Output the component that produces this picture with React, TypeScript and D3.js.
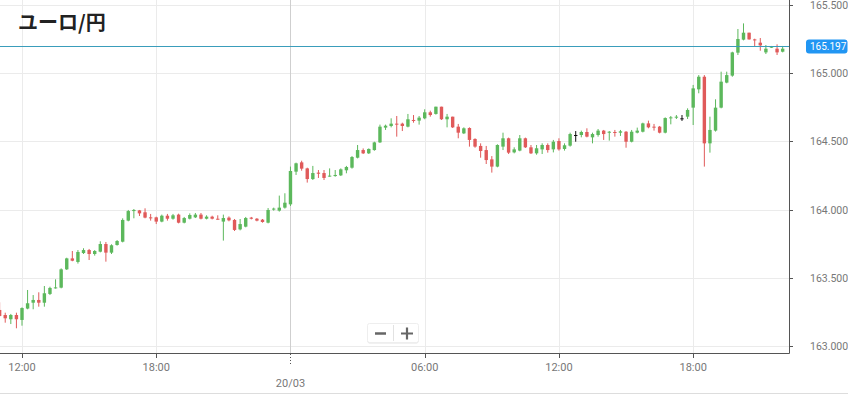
import React, { useEffect, useRef } from 'react';
import * as d3 from 'd3';

// 15分足 ユーロ/円 (19/03 11:00 〜 20/03 22:00)
const startTime = new Date(2023, 2, 19, 11, 0);

const opens = [
  163.267, 163.230, 163.199, 163.230, 163.194, 163.277, 163.320, 163.340, 163.320, 163.384,
  163.428, 163.430, 163.564, 163.644, 163.618, 163.683, 163.705, 163.676, 163.693, 163.749,
  163.686, 163.742, 163.766, 163.920, 163.990, 163.995, 163.981, 163.944, 163.944, 163.913,
  163.956, 163.934, 163.964, 163.905, 163.934, 163.944, 163.964, 163.934, 163.949, 163.934,
  163.913, 163.942, 163.925, 163.856, 163.876, 163.942, 163.934, 163.927, 163.905, 164.003,
  163.993, 164.015, 164.039, 164.278, 164.346, 164.302, 164.224, 164.271, 164.268, 164.244,
  164.246, 164.251, 164.288, 164.307, 164.380, 164.436, 164.412, 164.436, 164.492, 164.600,
  164.612, 164.629, 164.629, 164.607, 164.656, 164.651, 164.668, 164.712, 164.700, 164.753,
  164.661, 164.680, 164.607, 164.558, 164.597, 164.517, 164.466, 164.436, 164.368, 164.315,
  164.461, 164.522, 164.419, 164.432, 164.522, 164.456, 164.412, 164.441, 164.473, 164.441,
  164.502, 164.444, 164.468, 164.546, 164.546, 164.568, 164.529, 164.546, 164.578, 164.563,
  164.568, 164.563, 164.570, 164.497, 164.563, 164.570, 164.631, 164.607, 164.607, 164.563,
  164.668, 164.673, 164.668, 164.680, 164.746, 164.880, 164.972, 164.485, 164.578, 164.746,
  164.929, 164.980, 165.148, 165.243, 165.294, 165.245, 165.221, 165.150, 165.184, 165.177,
  165.155,
];

const highs = [
  163.323, 163.247, 163.238, 163.247, 163.286, 163.413, 163.376, 163.396, 163.442, 163.437,
  163.491, 163.571, 163.649, 163.698, 163.705, 163.718, 163.713, 163.705, 163.769, 163.764,
  163.747, 163.778, 163.937, 163.998, 164.005, 163.998, 164.010, 163.969, 163.949, 163.964,
  163.969, 163.969, 163.971, 163.947, 163.973, 163.976, 163.976, 163.959, 163.956, 163.959,
  163.964, 163.951, 163.932, 163.932, 163.947, 163.947, 163.939, 163.932, 164.012, 164.015,
  164.103, 164.120, 164.315, 164.344, 164.358, 164.307, 164.320, 164.290, 164.290, 164.302,
  164.290, 164.302, 164.320, 164.392, 164.473, 164.448, 164.448, 164.497, 164.622, 164.622,
  164.668, 164.685, 164.636, 164.700, 164.692, 164.685, 164.734, 164.724, 164.753, 164.753,
  164.700, 164.680, 164.627, 164.602, 164.602, 164.522, 164.485, 164.466, 164.392, 164.478,
  164.563, 164.527, 164.456, 164.546, 164.527, 164.473, 164.473, 164.485, 164.485, 164.510,
  164.522, 164.485, 164.563, 164.575, 164.578, 164.595, 164.563, 164.590, 164.583, 164.575,
  164.583, 164.583, 164.575, 164.583, 164.600, 164.636, 164.651, 164.627, 164.612, 164.675,
  164.685, 164.692, 164.692, 164.741, 164.912, 164.984, 164.984, 164.680, 164.807, 165.009,
  165.009, 165.155, 165.321, 165.362, 165.294, 165.250, 165.255, 165.204, 165.197, 165.209,
  165.197,
];

const lows = [
  163.218, 163.174, 163.164, 163.133, 163.152, 163.272, 163.272, 163.291, 163.291, 163.376,
  163.423, 163.425, 163.559, 163.623, 163.606, 163.676, 163.632, 163.664, 163.688, 163.620,
  163.676, 163.737, 163.761, 163.915, 163.937, 163.954, 163.937, 163.920, 163.895, 163.908,
  163.920, 163.927, 163.900, 163.900, 163.929, 163.939, 163.929, 163.929, 163.929, 163.927,
  163.774, 163.915, 163.844, 163.849, 163.871, 163.929, 163.915, 163.905, 163.900, 163.993,
  163.986, 164.008, 164.027, 164.254, 164.285, 164.198, 164.217, 164.232, 164.217, 164.241,
  164.241, 164.246, 164.266, 164.300, 164.375, 164.407, 164.407, 164.431, 164.488, 164.583,
  164.602, 164.534, 164.575, 164.602, 164.636, 164.622, 164.661, 164.680, 164.695, 164.656,
  164.602, 164.597, 164.522, 164.553, 164.461, 164.453, 164.380, 164.334, 164.271, 164.310,
  164.436, 164.407, 164.412, 164.427, 164.451, 164.407, 164.402, 164.407, 164.417, 164.419,
  164.432, 164.432, 164.461, 164.497, 164.529, 164.529, 164.485, 164.534, 164.510, 164.505,
  164.534, 164.539, 164.453, 164.492, 164.558, 164.565, 164.595, 164.578, 164.558, 164.558,
  164.624, 164.663, 164.649, 164.663, 164.619, 164.851, 164.315, 164.417, 164.571, 164.741,
  164.924, 164.972, 165.131, 165.238, 165.243, 165.196, 165.162, 165.138, 165.182, 165.131,
  165.150,
];

const closes = [
  163.223, 163.206, 163.230, 163.199, 163.281, 163.316, 163.340, 163.320, 163.389, 163.428,
  163.432, 163.564, 163.644, 163.627, 163.691, 163.705, 163.676, 163.698, 163.749, 163.686,
  163.740, 163.771, 163.925, 163.990, 163.998, 163.973, 163.942, 163.939, 163.913, 163.956,
  163.934, 163.959, 163.905, 163.939, 163.961, 163.964, 163.934, 163.949, 163.934, 163.929,
  163.939, 163.922, 163.852, 163.895, 163.939, 163.934, 163.920, 163.910, 163.998, 164.008,
  164.015, 164.051, 164.283, 164.339, 164.300, 164.224, 164.268, 164.263, 164.232, 164.249,
  164.254, 164.295, 164.312, 164.385, 164.436, 164.412, 164.444, 164.492, 164.607, 164.614,
  164.629, 164.624, 164.612, 164.661, 164.651, 164.673, 164.712, 164.692, 164.753, 164.661,
  164.680, 164.602, 164.563, 164.595, 164.510, 164.461, 164.429, 164.363, 164.315, 164.473,
  164.522, 164.417, 164.441, 164.522, 164.456, 164.412, 164.449, 164.473, 164.436, 164.497,
  164.441, 164.471, 164.553, 164.546, 164.568, 164.534, 164.553, 164.578, 164.553, 164.570,
  164.563, 164.573, 164.497, 164.570, 164.578, 164.631, 164.602, 164.602, 164.563, 164.670,
  164.675, 164.680, 164.668, 164.729, 164.887, 164.972, 164.485, 164.583, 164.746, 164.936,
  164.984, 165.150, 165.248, 165.294, 165.245, 165.238, 165.201, 165.177, 165.192, 165.150,
  165.177,
];

const currentPrice = 165.197;
const yTicks = [163.0, 163.5, 164.0, 164.5, 165.0, 165.5];
const xTicks = [
  new Date(2023, 2, 19, 12, 0),
  new Date(2023, 2, 19, 18, 0),
  new Date(2023, 2, 20, 0, 0),
  new Date(2023, 2, 20, 6, 0),
  new Date(2023, 2, 20, 12, 0),
  new Date(2023, 2, 20, 18, 0),
];
const title = 'ユーロ/円';

interface Candle {
  t: Date;
  o: number;
  h: number;
  l: number;
  c: number;
}

const candles: Candle[] = opens.map((o, i) => ({
  t: new Date(startTime.getTime() + i * 15 * 60000),
  o,
  h: highs[i],
  l: lows[i],
  c: closes[i],
}));

const App: React.FC = () => {
  const svgRef = useRef<SVGSVGElement | null>(null);

  useEffect(() => {
    if (!svgRef.current) return;
    const width = 848;
    const height = 395;
    const plotW = 789;
    const plotH = 354;
    const green = '#5cb85c';
    const red = '#e05a5a';

    const svg = d3.select(svgRef.current);
    svg.selectAll('*').remove();

    const x = d3
      .scaleTime()
      .domain([new Date(2023, 2, 19, 11, 1), new Date(2023, 2, 20, 22, 17)])
      .range([0, plotW]);
    const y = d3.scaleLinear().domain([162.945, 165.533]).range([plotH, 0]);

    svg.append('rect').attr('width', width).attr('height', height).attr('fill', '#fff');

    svg
      .append('defs')
      .append('clipPath')
      .attr('id', 'plot-clip')
      .append('rect')
      .attr('width', plotW)
      .attr('height', plotH);

    // グリッド
    svg
      .append('g')
      .selectAll('line')
      .data(yTicks)
      .join('line')
      .attr('x1', 0)
      .attr('x2', plotW)
      .attr('y1', (d) => Math.round(y(d)) + 0.5)
      .attr('y2', (d) => Math.round(y(d)) + 0.5)
      .attr('stroke', '#ebebeb');

    svg
      .append('g')
      .selectAll('line')
      .data(xTicks)
      .join('line')
      .attr('x1', (d) => Math.round(x(d)) + 0.5)
      .attr('x2', (d) => Math.round(x(d)) + 0.5)
      .attr('y1', 0)
      .attr('y2', plotH)
      .attr('stroke', (d) => (d.getHours() === 0 ? '#cfcfcf' : '#ebebeb'));

    // ローソク足
    const colorOf = (d: Candle) => (d.c > d.o ? green : d.c < d.o ? red : '#111');
    const g = svg.append('g').attr('clip-path', 'url(#plot-clip)');
    const bw = 3.4;

    g.selectAll('line.wick')
      .data(candles)
      .join('line')
      .attr('class', 'wick')
      .attr('x1', (d) => x(d.t))
      .attr('x2', (d) => x(d.t))
      .attr('y1', (d) => y(d.h))
      .attr('y2', (d) => y(d.l))
      .attr('stroke', colorOf)
      .attr('stroke-width', 1);

    g.selectAll('rect.body')
      .data(candles)
      .join('rect')
      .attr('class', 'body')
      .attr('x', (d) => x(d.t) - bw / 2)
      .attr('width', bw)
      .attr('y', (d) => y(Math.max(d.o, d.c)))
      .attr('height', (d) => Math.max(1, Math.abs(y(d.o) - y(d.c))))
      .attr('fill', colorOf);

    // 現在値ライン
    const py = Math.round(y(currentPrice)) + 0.5;
    svg
      .append('line')
      .attr('x1', 0)
      .attr('x2', plotW)
      .attr('y1', py)
      .attr('y2', py)
      .attr('stroke', '#3a9dbb')
      .attr('stroke-width', 1);

    // 軸線
    svg
      .append('path')
      .attr('d', `M0,${plotH - 0.5}H${plotW + 0.5}V0`)
      .attr('fill', 'none')
      .attr('stroke', '#555');

    // 右軸
    const ra = svg.append('g');
    ra.selectAll('line')
      .data(yTicks)
      .join('line')
      .attr('x1', plotW + 1)
      .attr('x2', plotW + 4)
      .attr('y1', (d) => Math.round(y(d)) + 0.5)
      .attr('y2', (d) => Math.round(y(d)) + 0.5)
      .attr('stroke', '#555');
    ra.selectAll('text')
      .data(yTicks)
      .join('text')
      .attr('x', 810)
      .attr('y', (d) => y(d) + 4)
      .attr('font-family', 'Roboto, sans-serif')
      .attr('font-size', 10.5)
      .attr('fill', '#777')
      .text((d) => d.toFixed(3));

    svg
      .append('rect')
      .attr('x', 806)
      .attr('y', py - 7)
      .attr('width', 41.5)
      .attr('height', 14)
      .attr('rx', 3)
      .attr('fill', '#2196f3');
    svg
      .append('text')
      .attr('x', 810)
      .attr('y', py + 3.8)
      .attr('font-family', 'Roboto, sans-serif')
      .attr('font-size', 10)
      .attr('fill', '#fff')
      .text(currentPrice.toFixed(3));

    // 下軸
    const fmt = d3.timeFormat('%H:%M');
    const dayFmt = d3.timeFormat('%d/%m');
    const ba = svg.append('g');
    ba.selectAll('line')
      .data(xTicks)
      .join('line')
      .attr('x1', (d) => Math.round(x(d)) + 0.5)
      .attr('x2', (d) => Math.round(x(d)) + 0.5)
      .attr('y1', plotH)
      .attr('y2', (d) => (d.getHours() === 0 ? plotH + 12 : plotH + 4))
      .attr('stroke', '#555')
      .attr('stroke-dasharray', (d) => (d.getHours() === 0 ? '1,2' : null));
    ba.selectAll('text')
      .data(xTicks)
      .join('text')
      .attr('x', (d) => x(d))
      .attr('y', (d) => (d.getHours() === 0 ? 387 : 371))
      .attr('text-anchor', 'middle')
      .attr('font-family', 'Roboto, sans-serif')
      .attr('font-size', 11)
      .attr('fill', '#777')
      .text((d) => (d.getHours() === 0 ? dayFmt(d) : fmt(d)));

    svg
      .append('line')
      .attr('x1', 0)
      .attr('x2', width)
      .attr('y1', 393.5)
      .attr('y2', 393.5)
      .attr('stroke', '#ddd');

    // タイトル
    svg
      .append('text')
      .attr('x', 18)
      .attr('y', 30)
      .attr('font-family', '"Noto Sans CJK JP", sans-serif')
      .attr('font-size', 20)
      .attr('font-weight', 'bold')
      .attr('fill', '#222')
      .text(title);

    // ズームボタン
    const zb = svg.append('g').attr('transform', 'translate(367,323)');
    zb.append('rect')
      .attr('x', 0.5)
      .attr('y', 1.5)
      .attr('width', 51)
      .attr('height', 19)
      .attr('rx', 2)
      .attr('fill', '#e4e4e4');
    zb.append('rect')
      .attr('x', 0.5)
      .attr('y', 0.5)
      .attr('width', 51)
      .attr('height', 19)
      .attr('rx', 2)
      .attr('fill', '#fff')
      .attr('stroke', '#eee');
    zb.append('line').attr('x1', 26.5).attr('x2', 26.5).attr('y1', 2).attr('y2', 18).attr('stroke', '#e2e2e2');
    zb.append('path').attr('d', 'M8,10.5H19').attr('stroke', '#666').attr('stroke-width', 2.5);
    zb.append('path').attr('d', 'M34,10.5H46M40,4.5V16.5').attr('stroke', '#666').attr('stroke-width', 2.2);
  }, []);

  return (
    <div>
      <style>{'body{margin:0}'}</style>
      <svg ref={svgRef} width={848} height={395} style={{ display: 'block' }}></svg>
    </div>
  );
};

export default App;
